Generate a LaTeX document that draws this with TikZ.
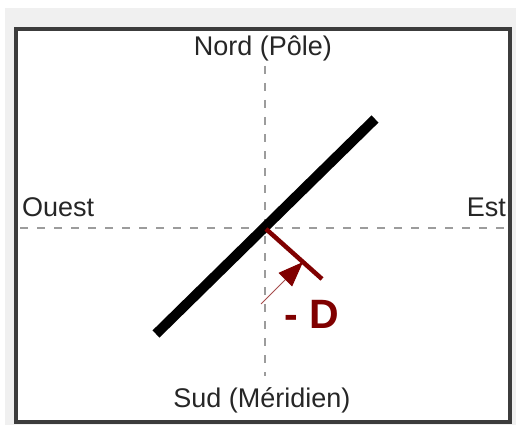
\documentclass[tikz,border=0pt]{standalone}
\usepackage{fontspec}
\setmainfont{Liberation Sans}
\usetikzlibrary{arrows.meta}
\definecolor{fondgris}{HTML}{F0F0F0}
\definecolor{cadre}{HTML}{3C3C3C}
\definecolor{axegris}{HTML}{9C9C9C}
\definecolor{rougefonce}{HTML}{800000}
\tikzset{
  axe/.style={axegris,line width=2.6pt,dash pattern=on 8pt off 9pt},
  pointcard/.style={inner sep=0pt,text=black!85,font=\fontsize{27}{32}\selectfont},
}
\begin{document}
\begin{tikzpicture}[x=1pt,y=-1pt,line cap=butt,>=Stealth]
        \useasboundingbox (0,0) rectangle (516,425);
        \fill[fondgris] (5,8) rectangle (516,425);
        \draw[cadre,fill=white,line width=3.5pt] (16,29) rectangle (510,422);
        \coordinate (centre) at (265,228);
        \node[pointcard,anchor=base] (nord) at (263,56) {Nord (Pôle)};
        \node[pointcard,anchor=base] (sud) at (262,407) {Sud (Méridien)};
        \node[pointcard,anchor=base west] (ouest) at (22,216) {Ouest};
        \node[pointcard,anchor=base east] (est) at (506,216) {Est};
        \coordinate (haut) at (265,66) ; \coordinate (bas) at (265,376) ;
        \coordinate (gauche) at (20,228) ; \coordinate (droite) at (510,228) ;
        \draw[axe] (haut)--(bas) (gauche)--(droite) ;
        % le plan du cadran
        \coordinate (planA) at (156,334) ; \coordinate (planB) at (375,119) ;
        \draw[line width=10pt] (planA)--(planB) ;
        % la declinaison
        \coordinate (pied) at (322,279) ;
        \draw[rougefonce,line width=4.5pt] (266,229)--(pied) ;
        \coordinate (queue) at (261,304) ; \coordinate (pointe) at (303,262) ;
        \draw[rougefonce!70,line width=1pt,-{Triangle[length=25pt,width=19pt,color=rougefonce]}] (queue)--(pointe) ;
        \node[inner sep=0pt,anchor=base,text=rougefonce,font=\bfseries\fontsize{41}{46}\selectfont] (moinsD) at (312,328) {- D};
\end{tikzpicture}
\end{document}
